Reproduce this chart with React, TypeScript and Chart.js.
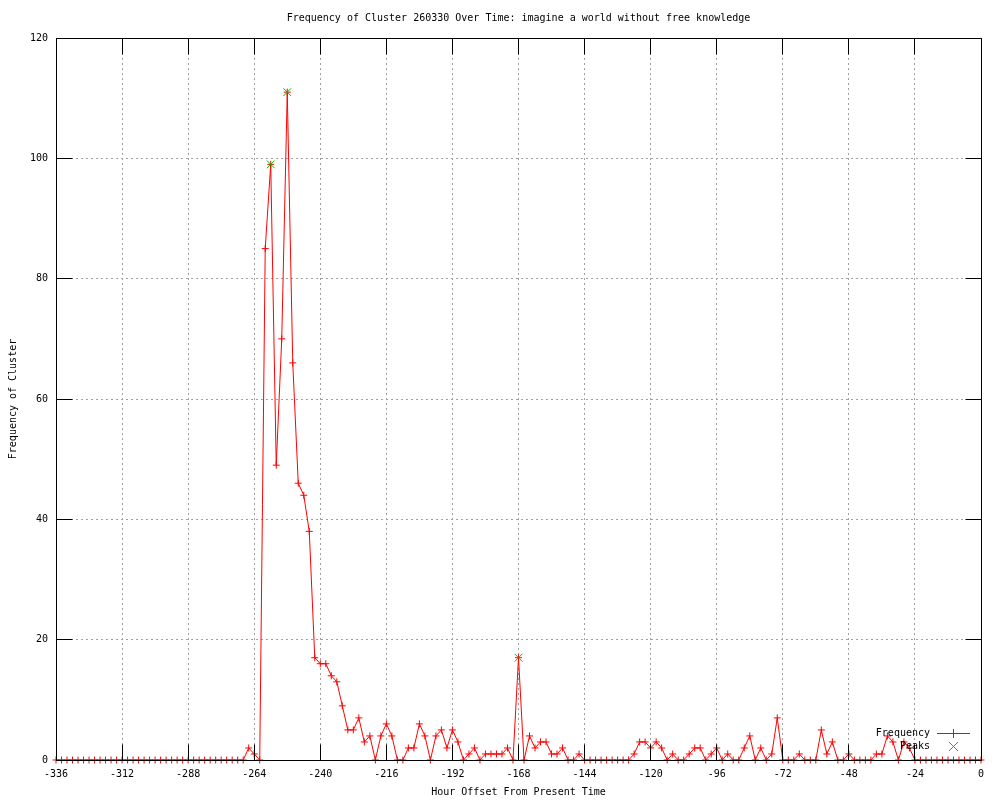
import React, { useEffect, useRef } from 'react';
import { Chart, registerables } from 'chart.js';

Chart.register(...registerables);

const TITLE = 'Frequency of Cluster 260330 Over Time: imagine a world without free knowledge';
const X_TITLE = 'Hour Offset From Present Time';
const Y_TITLE = 'Frequency of Cluster';
const FREQ_LABEL = 'Frequency';
const PEAK_LABEL = 'Peaks';

const hours = [
  -336, -334, -332, -330, -328, -326, -324, -322, -320, -318, -316, -314,
  -312, -310, -308, -306, -304, -302, -300, -298, -296, -294, -292, -290,
  -288, -286, -284, -282, -280, -278, -276, -274, -272, -270, -268, -266,
  -264, -262, -260, -258, -256, -254, -252, -250, -248, -246, -244, -242,
  -240, -238, -236, -234, -232, -230, -228, -226, -224, -222, -220, -218,
  -216, -214, -212, -210, -208, -206, -204, -202, -200, -198, -196, -194,
  -192, -190, -188, -186, -184, -182, -180, -178, -176, -174, -172, -170,
  -168, -166, -164, -162, -160, -158, -156, -154, -152, -150, -148, -146,
  -144, -142, -140, -138, -136, -134, -132, -130, -128, -126, -124, -122,
  -120, -118, -116, -114, -112, -110, -108, -106, -104, -102, -100, -98,
  -96, -94, -92, -90, -88, -86, -84, -82, -80, -78, -76, -74,
  -72, -70, -68, -66, -64, -62, -60, -58, -56, -54, -52, -50,
  -48, -46, -44, -42, -40, -38, -36, -34, -32, -30, -28, -26,
  -24, -22, -20, -18, -16, -14, -12, -10, -8, -6, -4, -2,
  0,
];

const frequency = [
  0, 0, 0, 0, 0, 0, 0, 0, 0, 0, 0, 0,
  0, 0, 0, 0, 0, 0, 0, 0, 0, 0, 0, 0,
  0, 0, 0, 0, 0, 0, 0, 0, 0, 0, 0, 2,
  1, 0, 85, 99, 49, 70, 111, 66, 46, 44, 38, 17,
  16, 16, 14, 13, 9, 5, 5, 7, 3, 4, 0, 4,
  6, 4, 0, 0, 2, 2, 6, 4, 0, 4, 5, 2,
  5, 3, 0, 1, 2, 0, 1, 1, 1, 1, 2, 0,
  17, 0, 4, 2, 3, 3, 1, 1, 2, 0, 0, 1,
  0, 0, 0, 0, 0, 0, 0, 0, 0, 1, 3, 3,
  2, 3, 2, 0, 1, 0, 0, 1, 2, 2, 0, 1,
  2, 0, 1, 0, 0, 2, 4, 0, 2, 0, 1, 7,
  0, 0, 0, 1, 0, 0, 0, 5, 1, 3, 0, 0,
  1, 0, 0, 0, 0, 1, 1, 4, 3, 0, 3, 2,
  0, 0, 0, 0, 0, 0, 0, 0, 0, 0, 0, 0,
  0,
];

const peakHours = [-258, -252, -168];
const peakValues = [99, 111, 17];

const xTicks = [-336, -312, -288, -264, -240, -216, -192, -168, -144, -120, -96, -72, -48, -24, 0];
const yTicks = [0, 20, 40, 60, 80, 100, 120];

const FONT = "'DejaVu Sans Mono', monospace";
const RED = '#ff0000';
const GREEN = '#00c000';
const TICK_LEN = 16;

const align = (p: number) => Math.round(p - 0.5) + 0.5;

const framePlugin = {
  id: 'gnuplotFrame',
  afterDatasetsDraw(chart: any) {
    const { ctx, chartArea, scales } = chart;
    const { left, right, top, bottom } = chartArea;
    const L = align(left);
    const R = align(right);
    const T = align(top);
    const B = align(bottom);
    ctx.save();
    ctx.globalAlpha = 1;
    ctx.strokeStyle = '#000000';
    ctx.lineWidth = 1;
    ctx.setLineDash([]);
    ctx.beginPath();
    ctx.rect(L, T, R - L, B - T);
    ctx.stroke();
    ctx.beginPath();
    xTicks.forEach((v) => {
      const px = align(scales.x.getPixelForValue(v));
      ctx.moveTo(px, B);
      ctx.lineTo(px, B - TICK_LEN);
      ctx.moveTo(px, T);
      ctx.lineTo(px, T + TICK_LEN);
    });
    yTicks.forEach((v) => {
      const py = align(scales.y.getPixelForValue(v));
      ctx.moveTo(L, py);
      ctx.lineTo(L + TICK_LEN, py);
      ctx.moveTo(R, py);
      ctx.lineTo(R - TICK_LEN, py);
    });
    ctx.stroke();
    ctx.restore();
  },
  afterDraw(chart: any) {
    const { ctx, chartArea } = chart;
    ctx.save();
    ctx.globalAlpha = 1;
    ctx.setLineDash([]);
    ctx.font = `10px ${FONT}`;
    ctx.fillStyle = '#000000';
    ctx.textBaseline = 'middle';
    ctx.textAlign = 'center';
    ctx.fillText(TITLE, (chartArea.left + chartArea.right) / 2, 18);

    // legend
    ctx.textAlign = 'right';
    const textX = 930;
    const y1 = 733;
    const y2 = 746;
    ctx.fillText(FREQ_LABEL, textX, y1 + 0.5);
    ctx.fillText(PEAK_LABEL, textX, y2 + 0.5);
    ctx.fillStyle = RED;
    ctx.fillRect(937, y1, 33, 1);
    ctx.fillRect(953, y1 - 4, 1, 9);
    ctx.fillStyle = GREEN;
    for (let k = -4; k <= 4; k++) {
      ctx.fillRect(953 + k, y2 + k, 1, 1);
      ctx.fillRect(953 + k, y2 - k, 1, 1);
    }
    ctx.restore();
  },
};

export default function App() {
  const canvasRef = useRef<HTMLCanvasElement | null>(null);

  useEffect(() => {
    if (!canvasRef.current) return;
    Chart.defaults.font.family = FONT;
    Chart.defaults.font.size = 10;
    Chart.defaults.color = '#000000';

    const freqData = hours.map((h, i) => ({ x: h, y: frequency[i] }));
    const peakData = peakHours.map((h, i) => ({ x: h, y: peakValues[i] }));

    const chart = new Chart(canvasRef.current, {
      type: 'line',
      data: {
        datasets: [
          {
            label: FREQ_LABEL,
            data: freqData,
            borderColor: RED,
            borderWidth: 1,
            backgroundColor: RED,
            pointStyle: 'cross',
            pointRadius: 3.5,
            pointBorderColor: RED,
            pointBorderWidth: 1,
            pointHoverRadius: 3.5,
            tension: 0,
            fill: false,
            clip: false as any,
            order: 1,
          },
          {
            label: PEAK_LABEL,
            data: peakData,
            showLine: false,
            borderColor: GREEN,
            backgroundColor: GREEN,
            pointStyle: 'crossRot',
            pointRadius: 5.5,
            pointBorderColor: GREEN,
            pointBorderWidth: 1,
            pointHoverRadius: 5.5,
            clip: false as any,
            order: 0,
          },
        ],
      },
      options: {
        responsive: false,
        animation: false,
        devicePixelRatio: 1,
        events: [],
        layout: { padding: { top: 38, right: 19, left: 0, bottom: 0 } },
        plugins: {
          legend: { display: false },
          title: { display: false },
          tooltip: { enabled: false },
        },
        scales: {
          x: {
            type: 'linear',
            min: -336,
            max: 0,
            afterBuildTicks: (s: any) => {
              s.ticks = xTicks.map((v) => ({ value: v }));
            },
            afterFit: (s: any) => {
              s.height = 40;
            },
            ticks: {
              padding: 8,
              maxRotation: 0,
              autoSkip: false,
              color: '#000000',
              font: { family: FONT, size: 10 },
              callback: (v: any) => String(v),
            },
            grid: {
              color: '#a0a0a0',
              lineWidth: 1,
              drawTicks: false,
            },
            border: { display: false, dash: [2, 3] },
            title: {
              display: true,
              text: X_TITLE,
              color: '#000000',
              font: { family: FONT, size: 10 },
              padding: { top: 0, bottom: 2 },
            },
          },
          y: {
            type: 'linear',
            min: 0,
            max: 120,
            afterBuildTicks: (s: any) => {
              s.ticks = yTicks.map((v) => ({ value: v }));
            },
            afterFit: (s: any) => {
              s.width = 56;
            },
            ticks: {
              padding: 8,
              autoSkip: false,
              color: '#000000',
              font: { family: FONT, size: 10 },
              callback: (v: any) => String(v),
            },
            grid: {
              color: '#a0a0a0',
              lineWidth: 1,
              drawTicks: false,
            },
            border: { display: false, dash: [2, 3] },
            title: {
              display: true,
              text: Y_TITLE,
              color: '#000000',
              font: { family: FONT, size: 10 },
              padding: { top: 7, bottom: 0 },
            },
          },
        },
      },
      plugins: [framePlugin],
    });

    return () => {
      chart.destroy();
    };
  }, []);

  return (
    <div style={{ position: 'absolute', left: 0, top: 0, width: 1000, height: 800, background: '#ffffff' }}>
      <canvas ref={canvasRef} width={1000} height={800} style={{ display: 'block', width: 1000, height: 800 }} />
    </div>
  );
}
